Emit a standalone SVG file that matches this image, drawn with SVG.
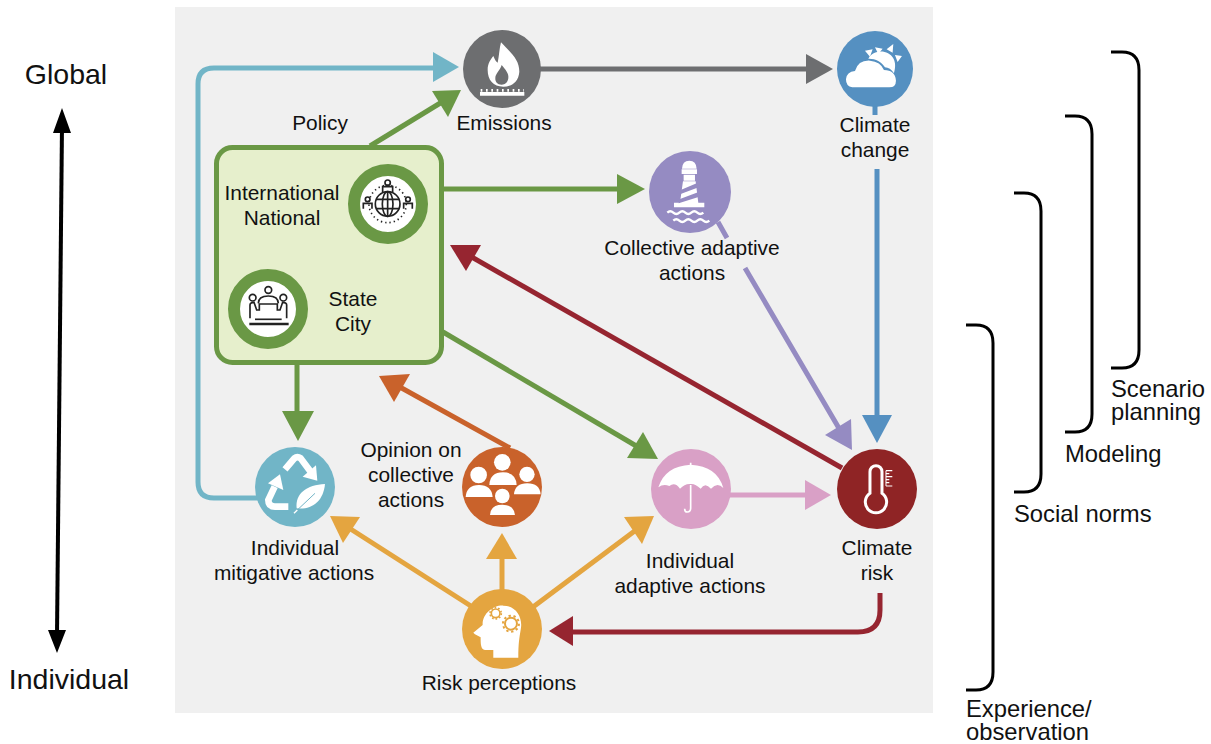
<svg xmlns="http://www.w3.org/2000/svg" width="1211" height="744" viewBox="0 0 1211 744">
<style>
text{font-family:"Liberation Sans",Arial,sans-serif;font-size:20.9px;fill:#111;text-anchor:middle}
.big{font-size:28.500px}
.mid{font-size:23.800px;text-anchor:start}
.c{fill:none;stroke-width:5}
.w{fill:#fff}
.ws{fill:none;stroke:#fff}
.k{fill:none;stroke:#222}
.br{fill:none;stroke:#000;stroke-width:3}
</style>
<rect x="175" y="7" width="758" height="706" fill="#f0f0f0"/>

<g id="scale">
<path d="M62 125 L57 635" stroke="#000" stroke-width="4" fill="none"/>
<path d="M62 108 L71 133 H53 Z M57 653 L48 630 H66 Z" fill="#000"/>
<text class="big" x="66" y="84">Global</text>
<text class="big" x="69" y="689">Individual</text>
</g>

<g id="brackets">
<path class="br" d="M1111 52 H1122 Q1139 52 1139 70 V350 Q1139 368 1122 368 H1111"/>
<path class="br" d="M1065 116 H1075 Q1092 116 1092 134 V414 Q1092 432 1075 432 H1065"/>
<path class="br" d="M1014 193 H1024 Q1041 193 1041 211 V474 Q1041 492 1024 492 H1014"/>
<path class="br" d="M966 325 H976 Q993 325 993 343 V672 Q993 690 976 690 H966"/>
<text class="mid" y="397"><tspan x="1111">Scenario</tspan><tspan x="1111" dy="23">planning</tspan></text>
<text class="mid" x="1065" y="462">Modeling</text>
<text class="mid" x="1014" y="522">Social norms</text>
<text class="mid" y="717"><tspan x="966">Experience/</tspan><tspan x="966" dy="23">observation</tspan></text>
</g>

<g id="connectors">
<path class="c" stroke="#71b5c7" d="M258 498 H214 Q198 498 198 482 V84 Q198 68 214 68 H438"/>
<path fill="#71b5c7" d="M459 67 L433 52 V82 Z"/>
<path class="c" stroke="#6d6e70" d="M540 69 H810"/>
<path fill="#6d6e70" d="M833 69 L806 54 V84 Z"/>
<path class="c" stroke="#6a9845" d="M370 146 L442 102"/>
<path fill="#6a9845" d="M461 90 L432 91 L448 117 Z"/>
<path class="c" stroke="#6a9845" d="M443 189 H620"/>
<path fill="#6a9845" d="M645 189 L617 174 V204 Z"/>
<path class="c" stroke="#958bc2" d="M718 222 L727 238 M745 268 L840 430"/>
<path fill="#958bc2" d="M852 450 L851 419 L825 435 Z"/>
<path class="c" stroke="#5590c1" d="M875 105 V115 M877 169 V418"/>
<path fill="#5590c1" d="M877 443 L862 415 H892 Z"/>
<path class="c" stroke="#962530" d="M842 468 L470 256"/>
<path fill="#962530" d="M450 245 L481 245 L466 271 Z"/>
<path class="c" stroke="#6a9845" d="M443 332 L638 447"/>
<path fill="#6a9845" d="M658 459 L643 432 L627 458 Z"/>
<path class="c" stroke="#6a9845" d="M297 363 V415"/>
<path fill="#6a9845" d="M298 441 L282 411 H314 Z"/>
<path class="c" stroke="#c9622b" d="M510 448 L398 386"/>
<path fill="#c9622b" d="M379 376 L410 374 L394 402 Z"/>
<path class="c" stroke="#e4a540" d="M474 608 L349 528"/>
<path fill="#e4a540" d="M330 516 L360 517 L343 543 Z"/>
<path class="c" stroke="#e4a540" d="M502 590 V555"/>
<path fill="#e4a540" d="M502 533 L486 559 H517 Z"/>
<path class="c" stroke="#e4a540" d="M533 607 L636 530"/>
<path fill="#e4a540" d="M654 516 L624 517 L642 544 Z"/>
<path class="c" stroke="#d9a0c6" d="M729 495 H808"/>
<path fill="#d9a0c6" d="M831 495 L805 480 V510 Z"/>
<path class="c" stroke="#962530" d="M880 593 V610 Q880 632 858 632 H570"/>
<path fill="#962530" d="M549 631 L573 616 V646 Z"/>
</g>

<g id="emissions">
<circle cx="502" cy="69" r="39" fill="#6d6e70"/>
<g transform="translate(440,10) scale(.3333)">
<path class="w" d="M183 97 C215 130 238 150 238 185 C236 215 215 230 190 230 C160 230 143 210 143 180 C143 160 152 148 160 138 C165 150 168 155 173 158 C178 135 178 115 183 97 Z"/>
<path fill="#6d6e70" d="M185 165 C197 180 207 190 205 205 C203 218 195 224 185 224 C172 224 165 215 166 203 C167 190 180 182 185 165 Z"/>
<path class="w" d="M120 246 H253 V257 H120 Z"/>
<path class="ws" stroke-width="8" stroke-dasharray="5 11" d="M122 241 H252"/>
</g>
<text x="504" y="130">Emissions</text>
</g>

<g id="climate-change">
<circle cx="875" cy="69" r="38" fill="#5590c1"/>
<g transform="translate(440,10) scale(.3333)">
<path class="w" d="M1275 122 L1298 118 L1290 140 Z M1305 112 L1328 116 L1315 132 Z M1340 118 L1360 102 L1358 128 Z M1365 135 L1386 138 L1373 156 Z"/>
<path class="w" d="M1285 146 C1300 118 1345 118 1360 145 C1368 160 1366 175 1362 190 C1355 178 1345 172 1335 172 C1325 155 1305 145 1285 146 Z"/>
<path class="w" d="M1237 232 Q1218 230 1218 208 Q1220 185 1245 183 Q1255 150 1290 152 Q1322 155 1332 180 Q1366 180 1368 212 Q1368 232 1348 232 Z"/>
</g>
<text x="875" y="132">Climate</text>
<text x="875" y="157">change</text>
</g>

<g id="collective-adaptive">
<circle cx="690" cy="192" r="41" fill="#958bc2"/>
<g transform="translate(440,10) scale(.3333)">
<path class="w" d="M726 476 Q727 452 748 452 Q769 452 770 476 Z M725 478 H771 V492 H725 Z M731 494 H765 V512 H731 Z"/>
<path class="w" d="M729 514 H767 L775 578 H793 V592 H702 V578 H720 Z"/>
<path fill="#958bc2" d="M722 540 L770 520 L772 533 L720 553 Z M718 568 L776 546 L778 560 L716 580 Z"/>
<path class="ws" stroke-width="7" d="M682 608 q9 -8 18 0 t18 0 t18 0 t18 0 t18 0 t18 0 M700 632 q9 -8 18 0 t18 0 t18 0 t18 0 t18 0 t18 0"/>
</g>
<text x="692" y="255">Collective adaptive</text>
<text x="692" y="280">actions</text>
</g>

<g id="policy">
<text x="320" y="130">Policy</text>
<rect x="216.500" y="147.500" width="225" height="215" rx="16" fill="#e6efcc" stroke="#6a9845" stroke-width="5"/>
<circle cx="388" cy="204" r="34" fill="#fff" stroke="#6a9845" stroke-width="12"/>
<circle cx="268" cy="309" r="34" fill="#fff" stroke="#6a9845" stroke-width="12"/>
<g transform="translate(200,140) scale(.3333)">
<circle class="k" cx="563" cy="192" r="37" stroke-width="5"/>
<ellipse class="k" cx="563" cy="192" rx="16" ry="37" stroke-width="5"/>
<path class="k" stroke-width="5" d="M563 155 V229 M528 178 H598 M528 206 H598"/>
<circle class="k" cx="563" cy="192" r="56" stroke-width="5" stroke-dasharray="4 9"/>
<circle class="k" cx="563" cy="128" r="8" stroke-width="5"/>
<path class="k" stroke-width="5" d="M548 156 V140 H578 V156"/>
<circle class="k" cx="503" cy="178" r="7" stroke-width="5"/>
<circle class="k" cx="624" cy="178" r="7" stroke-width="5"/>
<path class="k" stroke-width="5" d="M490 206 V190 H516 V206 M611 206 V190 H637 V206"/>
<circle class="k" cx="205" cy="450" r="10" stroke-width="5"/>
<circle class="k" cx="158" cy="473" r="10" stroke-width="5"/>
<circle class="k" cx="250" cy="473" r="10" stroke-width="5"/>
<path class="k" stroke-width="5" d="M175 490 Q175 468 205 468 Q235 468 235 490 M150 535 V495 Q150 487 162 487 L170 510 H178 V492 H232 V510 H240 L248 487 Q260 487 260 495 V535"/>
<path class="k" stroke-width="7" d="M148 552 H266"/>
<path class="k" stroke-width="5" d="M165 538 H245"/>
</g>
<text x="282" y="200">International</text>
<text x="282" y="225">National</text>
<text x="353" y="306">State</text>
<text x="353" y="331">City</text>
</g>

<g id="mitigative">
<circle cx="295" cy="487" r="40" fill="#71b5c7"/>
<g transform="translate(240,430) scale(.3333)">
<path class="ws" stroke-width="20" d="M135 118 L163 85 Q172 78 182 85 L212 125"/>
<path class="w" d="M232 152 L188 140 L228 106 Z"/>
<path class="ws" stroke-width="20" d="M145 230 H105 Q85 230 85 210 L104 170"/>
<path class="w" d="M120 133 L130 180 L84 160 Z"/>
<path class="w" d="M255 162 C200 165 165 190 170 235 C215 240 250 215 255 162 Z"/>
<path fill="none" stroke="#71b5c7" stroke-width="3" d="M225 190 L172 240"/>
<path class="ws" stroke-width="4" d="M172 240 L162 250"/>
</g>
<text x="295" y="555">Individual</text>
<text x="294" y="580">mitigative actions</text>
</g>

<g id="opinion">
<circle cx="502" cy="487" r="40" fill="#c9622b"/>
<g transform="translate(240,430) scale(.3333)">
<circle class="w" cx="787" cy="97" r="25"/>
<path class="w" d="M748 165 Q750 127 789 127 Q828 127 830 165 Z"/>
<circle class="w" cx="716" cy="135" r="25"/>
<path class="w" d="M677 201 Q680 165 717 165 Q755 165 758 201 Z"/>
<circle class="w" cx="861" cy="133" r="23"/>
<path class="w" d="M822 193 Q825 160 862 160 Q899 160 902 193 Z"/>
<circle class="w" cx="787" cy="198" r="22"/>
<path class="w" d="M750 255 Q752 224 787 224 Q822 224 825 255 Z"/>
</g>
<text x="411" y="457">Opinion on</text>
<text x="411" y="482">collective</text>
<text x="411" y="507">actions</text>
</g>

<g id="risk-perceptions">
<circle cx="502" cy="629" r="40" fill="#e4a540"/>
<g transform="translate(240,430) scale(.3333)">
<path class="w" d="M700 608 L728 585 C726 552 760 525 790 527 C830 527 850 565 842 600 C838 625 835 640 835 683 H760 V660 H735 C722 660 722 640 722 622 L705 613 Z"/>
<g fill="none" stroke="#e4a540">
<circle cx="767" cy="550" r="13" stroke-width="5"/>
<circle cx="767" cy="550" r="17" stroke-width="5" stroke-dasharray="5 5.700"/>
<circle cx="813" cy="581" r="18" stroke-width="6"/>
<circle cx="813" cy="581" r="24" stroke-width="6" stroke-dasharray="7 8"/>
</g>
</g>
<text x="499" y="690">Risk perceptions</text>
</g>

<g id="adaptive">
<circle cx="691" cy="489" r="40" fill="#d9a0c6"/>
<g transform="translate(630,430) scale(.3333)">
<path class="w" d="M85 172 Q105 108 182 104 Q262 108 280 174 Q262 155 243 176 Q225 155 212 176 Q195 160 182 162 Q165 160 150 176 Q135 155 118 168 Q100 160 85 172 Z"/>
<path class="ws" stroke-width="5" d="M182 98 V108 M182 165 V234 Q182 246 172 246 Q164 246 164 236"/>
</g>
<text x="690" y="568">Individual</text>
<text x="690" y="593">adaptive actions</text>
</g>

<g id="climate-risk">
<circle cx="877" cy="489" r="40" fill="#8f2425"/>
<g transform="translate(630,430) scale(.3333)">
<path class="ws" stroke-width="9" d="M720 190 V125 A18 18 0 0 1 756 125 V190 A32 32 0 1 1 720 190 Z"/>
<path class="ws" stroke-width="3" d="M768 122 V168"/>
<path class="ws" stroke-width="3.500" d="M768 122 H787 M768 131 H778 M768 140 H787 M768 149 H778 M768 158 H778 M768 168 H787"/>
</g>
<text x="877" y="555">Climate</text>
<text x="877" y="580">risk</text>
</g>
</svg>
